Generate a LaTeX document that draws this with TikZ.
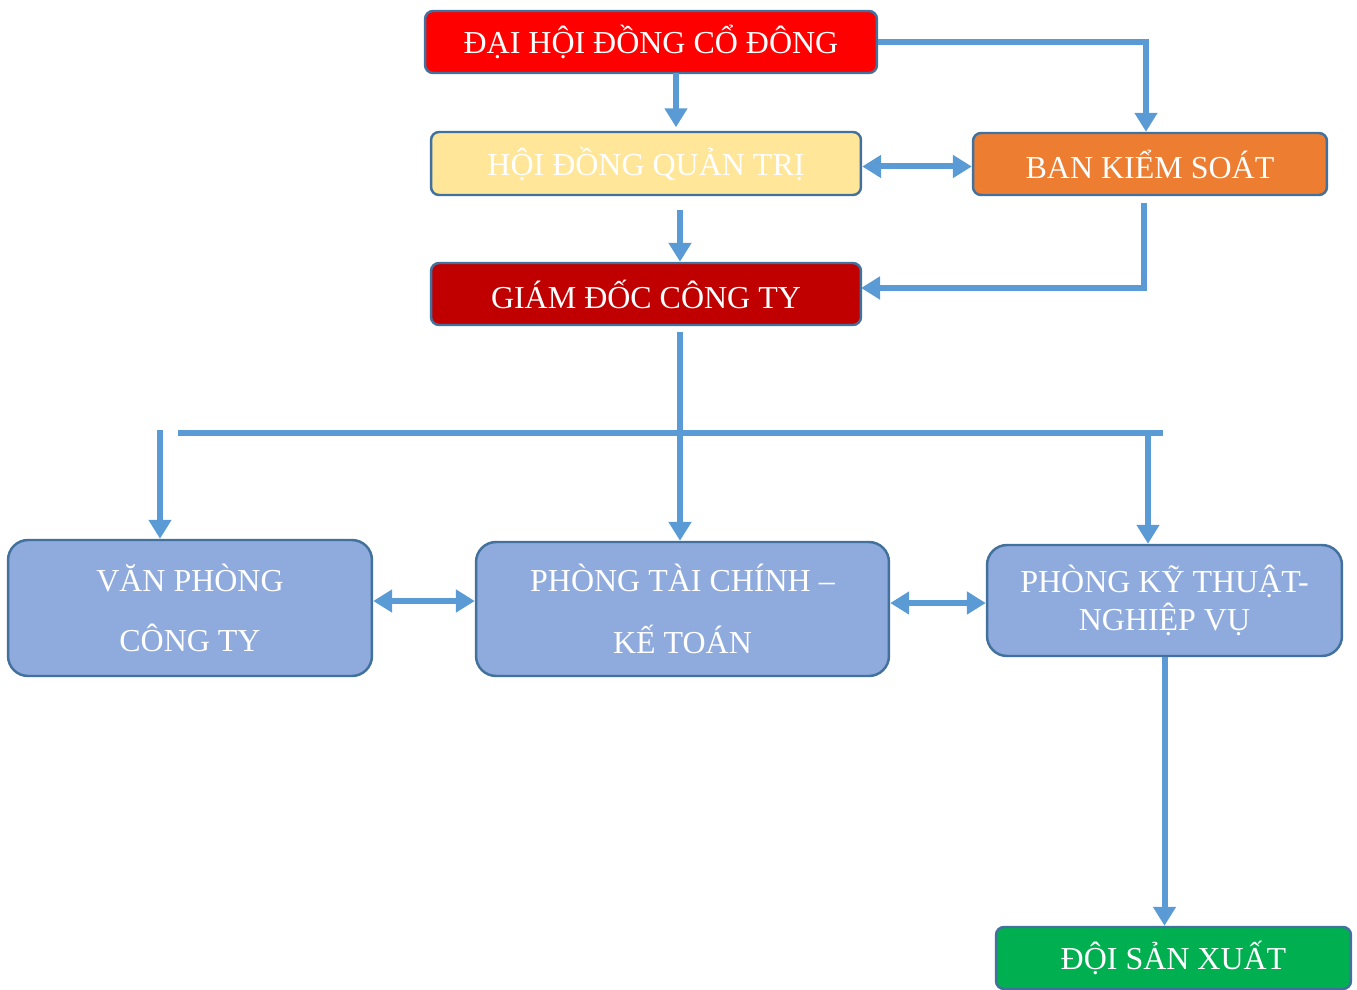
\documentclass[tikz,border=0pt]{standalone}
\usepackage{fontspec}
\setmainfont{Liberation Serif}
\usetikzlibrary{arrows.meta,positioning}
\definecolor{edgeblue}{HTML}{41719C}
\definecolor{linkblue}{HTML}{5B9BD5}
\definecolor{boardyellow}{HTML}{FFE699}
\definecolor{auditorange}{HTML}{ED7D31}
\definecolor{directorred}{HTML}{C00000}
\definecolor{deptblue}{HTML}{8FAADC}
\definecolor{teamgreen}{HTML}{00B050}
\tikzset
{
    orgbox/.style   = {rectangle, rounded corners=0.16cm, draw=edgeblue, line width=1.4pt, align=center, text=white, font=\fontsize{18.2}{22}\selectfont, minimum height=1.24cm},
    deptbox/.style  = {orgbox, rounded corners=0.4cm, fill=deptblue},
    link/.style     = {draw=linkblue, line width=0.12cm, -{Triangle[width=0.44cm,length=0.38cm]}},
    twolink/.style  = {draw=linkblue, line width=0.12cm, {Triangle[width=0.44cm,length=0.38cm]}-{Triangle[width=0.44cm,length=0.38cm]}},
    plainlink/.style = {draw=linkblue, line width=0.12cm}
}

\begin{document}
\begin{tikzpicture}[x=0.02cm, y=-0.02cm]
\useasboundingbox (0,0) rectangle (1357,990);
% top levels
\node[orgbox, fill=red, minimum width=9.04cm] (dhcd) at (651,42) {ĐẠI HỘI ĐỒNG CỔ ĐÔNG};
\node[orgbox, fill=boardyellow, minimum width=8.6cm, minimum height=1.26cm] (hdqt) at (646,163.5) {HỘI ĐỒNG QUẢN TRỊ};
\node[orgbox, fill=auditorange, minimum width=7.08cm] (bks) at (1150,164) {BAN KIỂM SOÁT};
\node[orgbox, fill=directorred, minimum width=8.6cm] (gdct) at (646,294) {GIÁM ĐỐC CÔNG TY};
% departments
\node[deptbox, minimum width=7.28cm, minimum height=2.72cm, font=\fontsize{18.2}{34.5}\selectfont] (vpct) at (190,608) {VĂN PHÒNG\\CÔNG TY};
\node[deptbox, minimum width=8.26cm, minimum height=2.68cm, font=\fontsize{18.2}{35}\selectfont] (ptckt) at (682.5,609) {PHÒNG TÀI CHÍNH –\\KẾ TOÁN};
\node[deptbox, minimum width=7.1cm, minimum height=2.22cm, font=\fontsize{18.2}{21.5}\selectfont] (pktnv) at (1164.5,600.5) {PHÒNG KỸ THUẬT-\\NGHIỆP VỤ};
\node[orgbox, fill=teamgreen, minimum width=7.1cm] (dsx) at (1173.5,958) {ĐỘI SẢN XUẤT};

% free ends of the connectors
\coordinate (dh-out) at (676,73);
\coordinate (bks-in) at (1146,42);
\coordinate (hd-out) at (680,210);
\coordinate (bk-out) at (1144,203);
\coordinate (gd-in) at (861,288);
\coordinate (gd-out) at (680,332);
\coordinate (bar-l) at (178,433);
\coordinate (bar-r) at (1163,433);
\coordinate (vp-in) at (160,430);
\coordinate (kt-in) at (1148,430);

\draw[link, shorten >=2pt] (dh-out) -- (dh-out |- hdqt.north);
\draw[link] (dhcd.east) -- (bks-in) -- (bks-in |- bks.north);
\draw[twolink] ([yshift=-0.06cm]hdqt.east) -- ([yshift=-0.06cm]hdqt.east -| bks.west);
\draw[link] (hd-out) -- (hd-out |- gdct.north);
\draw[link] (bk-out) |- (gd-in);
\draw[link] (gd-out) -- (gd-out |- ptckt.north);
\draw[plainlink] (bar-l) -- (bar-r);
\draw[link] (vp-in) -- (vp-in |- vpct.north);
\draw[link] (kt-in) -- (kt-in |- pktnv.north);
\draw[twolink] ([yshift=0.14cm]vpct.east) -- ([yshift=0.14cm]vpct.east -| ptckt.west);
\draw[twolink] ([yshift=0.12cm]ptckt.east) -- ([yshift=0.12cm]ptckt.east -| pktnv.west);
\draw[link] (pktnv.south) -- (pktnv.south |- dsx.north);
\end{tikzpicture}
\end{document}
